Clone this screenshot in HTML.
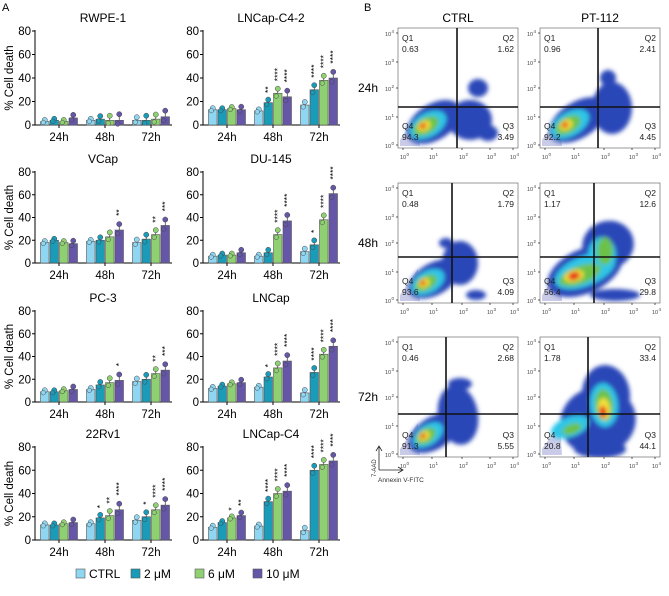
<!DOCTYPE html>
<html><head><meta charset="utf-8">
<style>
body{margin:0;background:#fff;font-family:"Liberation Sans",Arial,sans-serif;}
svg text{font-family:"Liberation Sans",Arial,sans-serif;}
</style></head>
<body>
<svg id="fig" width="669" height="591" viewBox="0 0 669 591" xmlns="http://www.w3.org/2000/svg">
<defs>
<filter id="blur" x="-30%" y="-30%" width="160%" height="160%"><feGaussianBlur stdDeviation="2"/></filter>
</defs>
<text x="2" y="11" font-size="11">A</text>
<text x="364" y="11" font-size="11">B</text>
<g id="bars"></g>
<g id="flow"></g>
<g id="legend"></g>
</svg>
<script>
const NS='http://www.w3.org/2000/svg';
const svg=document.getElementById('fig');
function mk(tag,attrs,parent){const e=document.createElementNS(NS,tag);for(const k in attrs)e.setAttribute(k,attrs[k]);(parent||svg).appendChild(e);return e;}

// ---------- Panel A data ----------
const timepoints=['24h','48h','72h'];
const doses=['CTRL','2 μM','6 μM','10 μM'];
const doseColors=['#8fd6f2','#1a9cb8','#8fd072','#6556a8'];
const yTicks=[0,20,40,60,80];
const cellLines=['RWPE-1','LNCap-C4-2','VCap','DU-145','PC-3','LNCap','22Rv1','LNCap-C4'];
const rwpe=[[3,4,3,6],[4,5,4,4],[4,4,5,7]];
const c42=[[13,13,14,13],[12,19,27,24],[17,30,38,40]];
const vcap=[[18,20,18,17],[19,20,23,29],[18,21,25,33]];
const du145=[[6,7,7,9],[6,9,25,37],[10,16,38,61]];
const pc3=[[9,9,10,11],[11,15,17,19],[18,20,25,28]];
const lncap=[[12,14,16,17],[13,22,30,36],[8,26,42,49]];
const rv1=[[13,13,14,15],[14,19,21,26],[17,20,26,30]];
const c4=[[11,15,19,21],[12,33,40,42],[8,60,65,68]];
const errs=[[1,1,1,2],[1,2,3,4],[2,3,3,4]];
const stars_rwpe=[['','','',''],['','','',''],['','','','']];
const stars_c42=[['','','',''],['','**','****','****'],['','****','****','****']];
const stars_vcap=[['','','',''],['','','','**'],['','','**','***']];
const stars_du=[['','','',''],['','','****','****'],['','*','****','****']];
const stars_pc3=[['','','',''],['','','','*'],['','','**','***']];
const stars_ln=[['','','',''],['','*','****','****'],['','****','****','****']];
const stars_rv=[['','','',''],['','*','**','****'],['','*','****','****']];
const stars_c4=[['','','*','**'],['','****','****','****'],['','****','****','****']];
const seriesData=[rwpe,c42,vcap,du145,pc3,lncap,rv1,c4];
const starData=[stars_rwpe,stars_c42,stars_vcap,stars_du,stars_pc3,stars_ln,stars_rv,stars_c4];

const rowY=[[31,125],[172,263],[311,402],[447,540]];
const colX=[35,203];
const barsG=document.getElementById('bars');
cellLines.forEach((name,i)=>{
  const r=Math.floor(i/2),c=i%2;
  const ax=colX[c],y80=rowY[r][0],y0=rowY[r][1];
  const yS=v=>y0-v/80*(y0-y80);
  const g=mk('g',{},barsG);
  
  
  const t=mk('text',{x:ax+68,y:y80-9,'font-size':12,'text-anchor':'middle'},g);t.textContent=name;
  
  
  const ya=mk('line',{x1:ax,y1:y80-1,x2:ax,y2:y0,stroke:'#000','stroke-width':1},g);
  
  
  const xa=mk('line',{x1:ax,y1:y0,x2:ax+137,y2:y0,stroke:'#000','stroke-width':1},g);
  
  
  yTicks.forEach(v=>{
    mk('line',{x1:ax-3,y1:yS(v),x2:ax,y2:yS(v),stroke:'#000'},g);
    const tl=mk('text',{x:ax-4,y:yS(v)+4,'font-size':11.5,'text-anchor':'end'},g);tl.textContent=v;
    
    
  });
  if(c===0){
    const yl=mk('text',{x:0,y:0,'font-size':11.5,'text-anchor':'middle',transform:`translate(13,${(y0+y80)/2}) rotate(-90)`},g);
    yl.textContent='% Cell death';
    
    
  }
  const data=seriesData[i],st=starData[i];
  timepoints.forEach((tp,gi)=>{
    const gc=ax+24+gi*46;
    const xl=mk('text',{x:gc,y:y0+16,'font-size':11.5,'text-anchor':'middle'},g);xl.textContent=tp;
    
    
    mk('line',{x1:gc,y1:y0,x2:gc,y2:y0+3,stroke:'#000'},g);
    doses.forEach((d,di)=>{
      const v=data[gi][di];
      const bx=gc-19+di*9.5;
      const b=mk('rect',{x:bx+0.5,y:yS(v),width:8.5,height:y0-yS(v),fill:doseColors[di],stroke:'#555','stroke-width':0.6},g);
      
      
      const e=errs[gi][di];
      const cx=bx+4.75;
      mk('line',{x1:cx,y1:yS(v),x2:cx,y2:yS(v+e),stroke:'#333','stroke-width':0.7},g);
      mk('line',{x1:cx-2,y1:yS(v+e),x2:cx+2,y2:yS(v+e),stroke:'#333','stroke-width':0.7},g);
      mk('circle',{cx:cx,cy:yS(v+e*1.3),r:2.6,fill:doseColors[di],stroke:'#444','stroke-width':0.5},g);
      mk('circle',{cx:cx-1.5,cy:yS(v-e*0.8),r:2.3,fill:doseColors[di],stroke:'#444','stroke-width':0.5},g);
      if(st[gi][di]){
        const top=yS(v+e*2)-5;
        const s=mk('text',{x:0,y:0,'font-size':8.5,'text-anchor':'start',transform:`translate(${cx+2.5},${top}) rotate(-90)`},g);
        s.textContent=st[gi][di];
        
        
      }
    });
  });
});

const lg=document.getElementById('legend');
const legX=[76,131,195,253];
doses.forEach((d,di)=>{
  const r=mk('rect',{x:legX[di],y:569,width:9,height:9,fill:doseColors[di],stroke:'#555','stroke-width':0.6},lg);
  
  
  const t=mk('text',{x:legX[di]+13,y:578,'font-size':12},lg);t.textContent=d;
  
  
});

// ---------- Panel B flow plots ----------
const flowG=document.getElementById('flow');
const colTitles=['CTRL','PT-112'];
const rowLabels=['24h','48h','72h'];
const q1=[['0.63','0.96'],['0.48','1.17'],['0.46','1.78']];
const q2=[['1.62','2.41'],['1.79','12.6'],['2.68','33.4']];
const q3=[['3.49','4.45'],['4.09','29.8'],['5.55','44.1']];
const q4=[['94.3','92.2'],['93.6','56.4'],['91.3','20.8']];
const boxX=[398,540], boxY=[28,183,337], bw=120, bh=120;
const gates=[[[59,79],[58,79]],[[54,74],[54,74]],[[48,77],[48,77]]];
const BL='#2a46b8',CY='#2fc6e8',GR='#6cc24a',YE='#f4e03a',RD='#e8281e';
const blobs=[
 [
  [[[36,94,30,18,-32,BL],[72,92,22,20,0,BL],[80,60,10,9,0,BL],[90,105,10,8,0,BL],[30,97,20,12,-30,CY],[28,98,14,8,-30,GR],[26,98,7,5,-30,YE],[25,98,3.5,2.6,-30,RD]]],
  [[[38,92,32,18,-32,BL],[72,80,20,26,0,BL],[68,50,8,8,0,BL],[30,96,21,12,-30,CY],[28,97,14,8,-30,GR],[26,97,7,5,-30,YE],[25,97,3.5,2.6,-30,RD]]]
 ],
 [
  [[[36,96,28,16,-30,BL],[62,80,18,22,0,BL],[48,60,7,5,0,BL],[78,112,10,5,0,BL],[30,99,18,11,-30,CY],[28,100,12,7,-30,GR],[26,100,6,4.5,-30,YE],[25,100,3,2.4,-30,RD]]],
  [[[45,88,40,22,-25,BL],[68,62,26,24,-20,BL],[75,112,25,6,0,BL],[45,88,32,15,-22,CY],[62,72,14,18,0,CY],[40,92,22,9,-20,GR],[65,68,8,14,0,GR],[34,93,10,6,-15,YE],[34,93,6,4,-15,RD]]]
 ],
 [
  [[[36,96,28,16,-32,BL],[60,78,20,30,-10,BL],[62,47,12,6,0,BL],[30,98,17,10,-35,CY],[28,99,11,7,-35,GR],[26,99,6,4.5,-35,YE],[25,99,3,2.4,-35,RD]]],
  [[[58,84,38,34,-15,BL],[60,112,26,9,0,BL],[66,58,24,30,-5,BL],[30,90,20,10,-20,CY],[64,68,14,22,-5,CY],[64,68,9,16,-5,GR],[32,92,10,5,-20,GR],[64,72,6,11,-5,YE],[63,75,3.5,6,-5,RD]]]
 ]
];
const yTickPos=[5,34,60,89,117], yExp=['4','3','2','1','0'];
const xTickPos=[5,34,64,92,115], xExp=['0','1','2','3','4'];
colTitles.forEach((t,c)=>{
  const tt=mk('text',{x:boxX[c]+60,y:22,'font-size':12,'text-anchor':'middle'},flowG);tt.textContent=t;
  
  
});
rowLabels.forEach((rl,r)=>{
  const t=mk('text',{x:358,y:boxY[r]+64,'font-size':12},flowG);t.textContent=rl;
  
  
  [0,1].forEach(c=>{
    const x0=boxX[c],y0=boxY[r];
    const g=mk('g',{},flowG);
    
    
    const cid='clip'+r+c;
    const cp=mk('clipPath',{id:cid},g);mk('rect',{x:x0,y:y0,width:bw,height:bh},cp);
    const inner=mk('g',{'clip-path':`url(#${cid})`},g);
    mk('polygon',{points:`${x0+2},${y0+118} ${x0+2},${y0+112} ${x0+20},${y0+86} ${x0+22},${y0+118}`,fill:'#c9cbe8'},inner);
    const bg=mk('g',{filter:'url(#blur)'},inner);
    blobs[r][c][0].forEach(b=>{
      mk('ellipse',{cx:x0+b[0],cy:y0+b[1],rx:b[2],ry:b[3],fill:b[5],transform:`rotate(${b[4]} ${x0+b[0]} ${y0+b[1]})`},bg);
    });
    mk('rect',{x:x0,y:y0,width:bw,height:bh,fill:'none',stroke:'#555','stroke-width':0.6},g);
    const [gx,gy]=gates[r][c];
    mk('line',{x1:x0+gx,y1:y0,x2:x0+gx,y2:y0+bh,stroke:'#111','stroke-width':1.6},g);
    mk('line',{x1:x0,y1:y0+gy,x2:x0+bw,y2:y0+gy,stroke:'#111','stroke-width':1.6},g);
    const labs=[['Q1',4,13,'start'],[q1[r][c],4,24,'start'],['Q2',116,13,'end'],[q2[r][c],116,24,'end'],
                ['Q4',4,101,'start'],[q4[r][c],4,112,'start'],['Q3',116,101,'end'],[q3[r][c],116,112,'end']];
    labs.forEach(l=>{
      const tx=mk('text',{x:x0+l[1],y:y0+l[2],'font-size':8.5,'text-anchor':l[3],fill:'#222'},g);tx.textContent=l[0];
      
      
    });
    yTickPos.forEach((p,k)=>{
      const tx=mk('text',{x:x0-13,y:y0+p+3,'font-size':5.5,fill:'#444'},g);tx.textContent='10';
      const sp=mk('text',{x:x0-6.5,y:y0+p,'font-size':4.5,fill:'#444'},g);sp.textContent=yExp[k];
      mk('line',{x1:x0-2,y1:y0+p,x2:x0,y2:y0+p,stroke:'#333','stroke-width':0.8},g);
    });
    xTickPos.forEach((p,k)=>{
      const tx=mk('text',{x:x0+p-3,y:y0+bh+11,'font-size':5.5,fill:'#444'},g);tx.textContent='10';
      const sp=mk('text',{x:x0+p+3.5,y:y0+bh+8,'font-size':4.5,fill:'#444'},g);sp.textContent=xExp[k];
      mk('line',{x1:x0+p,y1:y0+bh,x2:x0+p,y2:y0+bh+2,stroke:'#333','stroke-width':0.8},g);
    });
  });
});
mk('path',{d:'M379,470 L379,447 M376,451 L379,446 L382,451 M379,470 L402,470 M398,467 L403,470 L398,473',stroke:'#222',fill:'none','stroke-width':0.8},flowG);
const a1=mk('text',{x:0,y:0,'font-size':6,transform:'translate(376,477) rotate(-90)',fill:'#333'},flowG);a1.textContent='7-AAD';


const a2=mk('text',{x:378,y:482,'font-size':6.5,fill:'#333'},flowG);a2.textContent='Annexin V-FITC';


</script>
</body></html>
